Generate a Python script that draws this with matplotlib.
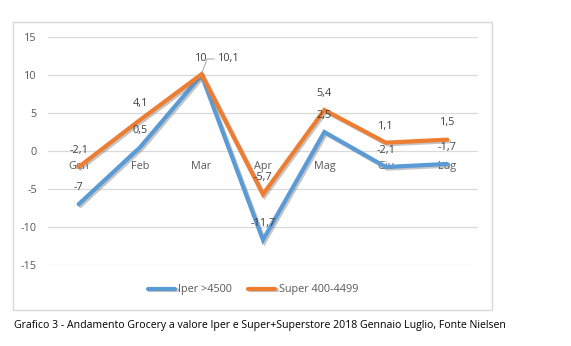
import matplotlib.pyplot as plt
import matplotlib.patheffects as pe
from matplotlib.patches import Rectangle

months = ['Gen', 'Feb', 'Mar', 'Apr', 'Mag', 'Giu', 'Lug']
iper = [-7, 0.5, 10, -11.7, 2.5, -2.1, -1.7]
super_ = [-2.1, 4.1, 10.1, -5.7, 5.4, 1.1, 1.5]
series_names = ['Iper >4500', 'Super 400-4499']
y_ticks = [-15, -10, -5, 0, 5, 10, 15]
caption = 'Grafico 3 - Andamento Grocery a valore Iper e Super+Superstore 2018 Gennaio Luglio, Fonte Nielsen'

plt.rcParams['font.family'] = ['Open Sans', 'DejaVu Sans']

BLUE = '#5B9BD5'
ORANGE = '#ED7D31'
TXT = '#404040'
FS = 7.8


def fmt(v):
    s = f'{v:g}'
    return s.replace('.', ',')


fig = plt.figure(figsize=(5.71, 3.46), dpi=100)
fig.patches.append(Rectangle((0.0228, 0.104), 0.839, 0.832, transform=fig.transFigure,
                             fill=False, edgecolor='#D9D9D9', lw=1))
ax = fig.add_axes([0.084, 0.234, 0.753, 0.659])

shadow = [pe.SimpleLineShadow(offset=(1.2, -1.2), shadow_color='#7F7F7F', alpha=0.45), pe.Normal()]
x = list(range(len(months)))
ax.plot(x, iper, color=BLUE, lw=3.0, label=series_names[0], path_effects=shadow,
        solid_joinstyle='miter', solid_capstyle='round', zorder=3)
ax.plot(x, super_, color=ORANGE, lw=3.0, label=series_names[1], path_effects=shadow,
        solid_joinstyle='miter', solid_capstyle='round', zorder=4)

ax.set_xlim(-0.5, len(months) - 0.5)
ax.set_ylim(-15, 15)
ax.set_yticks(y_ticks)
ax.set_yticklabels([str(t) for t in y_ticks])
ax.set_xticks([])
ax.grid(axis='y', color='#D9D9D9', lw=0.9)
ax.set_axisbelow(True)
for s in ax.spines.values():
    s.set_visible(False)
ax.tick_params(axis='y', length=0, labelsize=FS, labelcolor='#595959', pad=8)

# category labels sit just under the zero line
for i, m in enumerate(months):
    ax.annotate(m, (i, 0), xytext=(0, -11), textcoords='offset points', ha='center',
                va='center', fontsize=FS, color='#595959', zorder=2)

# data labels
for i, v in enumerate(iper):
    ax.annotate(fmt(v), (i, v), xytext=(0, 12), textcoords='offset points', ha='center',
                va='center', fontsize=FS, color=TXT, zorder=5)
for i, v in enumerate(super_):
    if i == 2:
        ax.annotate(fmt(v), (i, v), xytext=(20, 11), textcoords='offset points', ha='center',
                    va='center', fontsize=FS, color=TXT, zorder=5,
                    arrowprops=dict(arrowstyle='-', color='#A6A6A6', lw=0.7,
                                    shrinkA=1, shrinkB=2,
                                    connectionstyle='angle,angleA=0,angleB=70,rad=0'))
    else:
        ax.annotate(fmt(v), (i, v), xytext=(0, 12), textcoords='offset points', ha='center',
                    va='center', fontsize=FS, color=TXT, zorder=5)

fig.legend(loc='center', bbox_to_anchor=(0.443, 0.162), ncol=2, frameon=False,
           fontsize=FS, handlelength=2.5, columnspacing=1.5, handletextpad=0.3,
           labelcolor='#595959')

fig.text(0.0245, 0.06, caption, fontsize=7.6, color='black', va='center', ha='left')

fig.savefig('out.png', dpi=100)
